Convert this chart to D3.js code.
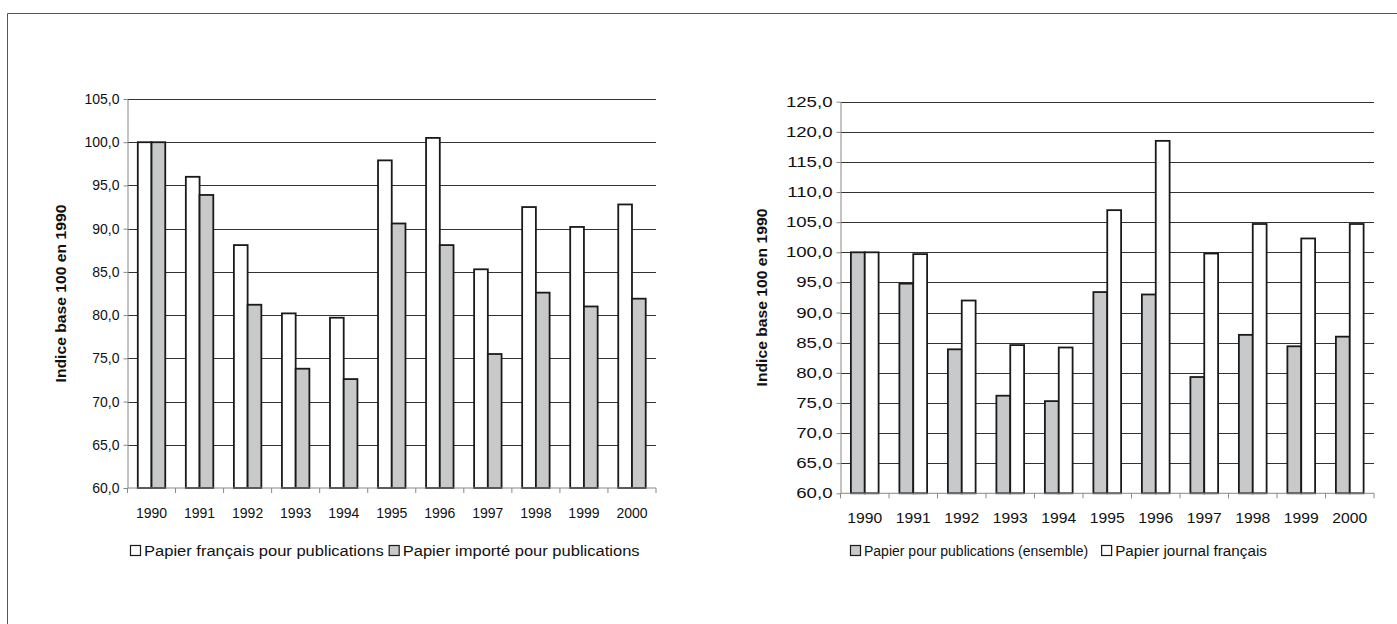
<!DOCTYPE html>
<html>
<head>
<meta charset="utf-8">
<script src="https://cdn.jsdelivr.net/npm/d3@7/dist/d3.min.js"></script>
<style>
	body { margin:0; background:#fff; }
	text { font-family: "Liberation Sans", Arial, sans-serif; fill:#111; }
</style>
</head>
<body>
<div id="chart"></div>
<script>

let years = ["1990","1991","1992","1993","1994","1995","1996","1997","1998","1999","2000"];

// graphique de gauche
let francaisPub = [100.0, 96.0, 88.1, 80.2, 79.7, 97.9, 100.5, 85.3, 92.5, 90.2, 92.8];
let importePub  = [100.0, 93.9, 81.2, 73.8, 72.6, 90.6, 88.1, 75.5, 82.6, 81.0, 81.9];
let leftTicks = [60,65,70,75,80,85,90,95,100,105];

// graphique de droite
let ensemblePub = [100.0, 94.8, 83.9, 76.2, 75.3, 93.4, 93.0, 79.3, 86.3, 84.4, 86.0];
let journalFr   = [100.0, 99.7, 92.0, 84.6, 84.2, 107.0, 118.5, 99.8, 104.7, 102.3, 104.7];
let rightTicks = [60,65,70,75,80,85,90,95,100,105,110,115,120,125];

let leftSeries = [
	{name:"Papier français pour publications", values:francaisPub, fill:"#ffffff"},
	{name:"Papier importé pour publications", values:importePub, fill:"#c8c9ca"}
];
let rightSeries = [
	{name:"Papier pour publications (ensemble)", values:ensemblePub, fill:"#c8c9ca"},
	{name:"Papier journal français", values:journalFr, fill:"#ffffff"}
];

let W = 1397, H = 624;
let svg = d3.select("#chart").append("svg").attr("width",W).attr("height",H);

// cadre extérieur
svg.append("path")
	.attr("d","M7.5,"+H+" V13.5 H"+W)
	.attr("fill","none").attr("stroke","#555").attr("stroke-width",1);

let fmt = d => d3.format(".1f")(d).replace(".",",");

// les textes du modèle sont étirés horizontalement
function stretch(sel, k) {
	sel.each(function() {
		if (k == 1) return;
		let len = this.getComputedTextLength();
		d3.select(this).attr("textLength",len*k).attr("lengthAdjust","spacingAndGlyphs");
	});
}

function createChart(box, series, ticks, opt) {
	let x = d3.scaleBand().domain(years).range([box.left,box.right]).padding(0);
	let y = d3.scaleLinear().domain([ticks[0],ticks[ticks.length-1]]).range([box.bottom,box.top]);
	let g = svg.append("g");

	// quadrillage
	g.selectAll("line.grid").data(ticks.slice(1)).enter().append("line")
		.attr("x1",box.left).attr("x2",box.right)
		.attr("y1",d => Math.round(y(d))+0.5).attr("y2",d => Math.round(y(d))+0.5)
		.attr("stroke","#333").attr("stroke-width",1);

	// axe Y
	let yAxis = g.append("g").attr("transform","translate("+box.left+",0)")
		.call(d3.axisLeft(y).tickValues(ticks).tickFormat(fmt).tickSize(4).tickSizeOuter(0));
	yAxis.select(".domain").attr("stroke","#888");
	yAxis.selectAll(".tick line").attr("stroke","#888");
	yAxis.selectAll("text").attr("font-size",14).attr("dx",-1).call(stretch,opt.yk);

	// barres
	let bw = x.bandwidth()/3.5;
	series.forEach(function(s,i) {
		g.selectAll("rect.s"+i).data(s.values).enter().append("rect")
			.attr("x",(d,j) => x(years[j]) + x.bandwidth()/2 - bw + i*bw)
			.attr("y",d => y(d))
			.attr("width",bw)
			.attr("height",d => y(ticks[0]) - y(d))
			.attr("fill",s.fill)
			.attr("stroke","#1a1a1a")
			.attr("stroke-width",1.8);
	});

	// axe X
	let xAxis = g.append("g").attr("transform","translate(0,"+(box.bottom)+")");
	xAxis.append("line").attr("x1",box.left).attr("x2",box.right)
		.attr("stroke","#888").attr("stroke-width",1);
	xAxis.selectAll("line.tk").data(d3.range(years.length+1)).enter().append("line")
		.attr("x1",i => box.left + i*x.bandwidth()).attr("x2",i => box.left + i*x.bandwidth())
		.attr("y1",0).attr("y2",5).attr("stroke","#888");
	xAxis.selectAll("text").data(years).enter().append("text")
		.attr("x",d => x(d)+x.bandwidth()/2)
		.attr("y",30)
		.attr("text-anchor","middle")
		.attr("font-size",14)
		.text(d => d)
		.call(stretch,opt.xk);

	// titre axe Y
	g.append("text")
		.attr("transform","translate("+box.titleX+","+((box.top+box.bottom)/2)+") rotate(-90)")
		.attr("text-anchor","middle")
		.attr("font-size",14).attr("font-weight","bold")
		.text("Indice base 100 en 1990")
		.call(stretch,1.12);

	// légende
	let lx = opt.lx;
	series.forEach(function(s,i) {
		let lg = g.append("g").attr("transform","translate("+lx+","+opt.ly+")");
		lg.append("rect").attr("x",0.5).attr("y",-5.5).attr("width",10).attr("height",10)
			.attr("fill",s.fill).attr("stroke","#1a1a1a").attr("stroke-width",1.2);
		let t = lg.append("text").attr("x",14).attr("y",5).attr("font-size",14).text(s.name);
		let len = t.node().getComputedTextLength()*opt.lk[i];
		t.call(stretch,opt.lk[i]);
		lx += 14 + len + opt.gap;
	});
}

createChart({left:127.5, right:656, top:99, bottom:488, titleX:66}, leftSeries, leftTicks,
	{lx:130, ly:551, yk:1, xk:1, lk:[1.18,1.18], gap:5});
createChart({left:840.5, right:1374, top:101.7, bottom:493.3, titleX:767}, rightSeries, rightTicks,
	{lx:850, ly:551, yk:1.33, xk:1.12, lk:[1,1.09], gap:13});

</script>
</body>
</html>
